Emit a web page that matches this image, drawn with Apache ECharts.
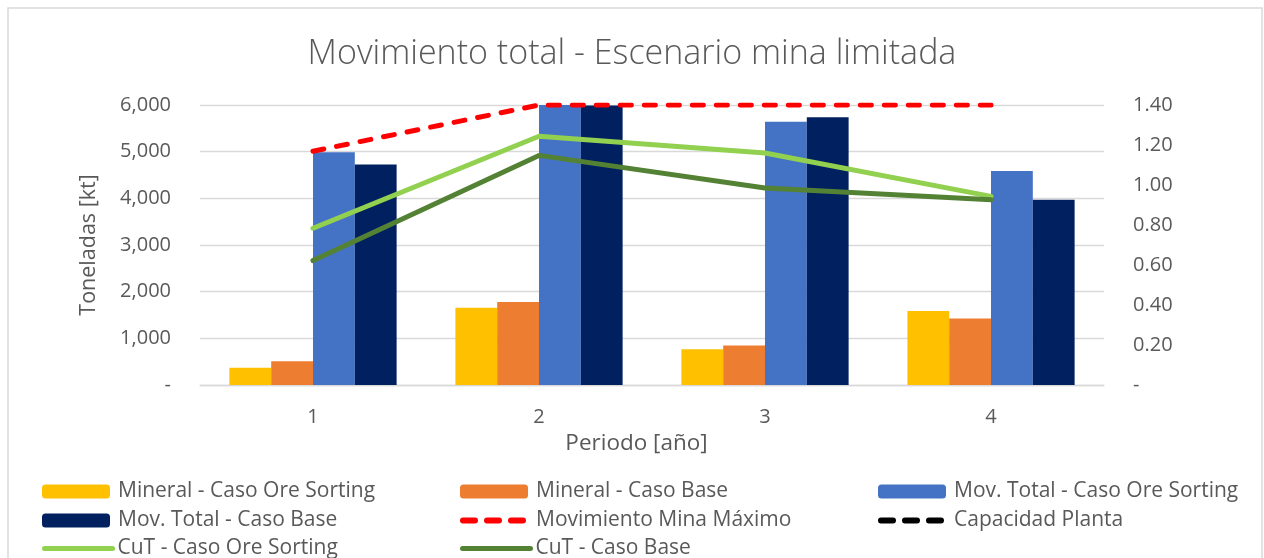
<!DOCTYPE html>
<html>
<head>
<meta charset="utf-8">
<script src="https://cdn.jsdelivr.net/npm/echarts@6/dist/echarts.min.js"></script>
<style>
  html, body { margin: 0; padding: 0; background: #ffffff; }
  #chart { width: 1264px; height: 558px; }
</style>
</head>
<body>
<div id="chart"></div>
<script>
// Periods (x axis categories)
const periodos = ['1', '2', '3', '4'];

// Tonnage series, kt (left axis)
const mineralOreSorting = [370, 1655, 767, 1584];
const mineralBase = [510, 1777, 847, 1427];
const movTotalOreSorting = [4990, 6000, 5640, 4586];
const movTotalBase = [4725, 5990, 5740, 3970];
const movMinaMaximo = [5010, 6000, 6000, 6000];
const capacidadPlanta = [null, null, null, null];

// Copper grade series, % (right axis)
const cutOreSorting = [0.784, 1.244, 1.160, 0.943];
const cutBase = [0.622, 1.148, 0.985, 0.926];

// Axis ranges
const tonMax = 6000, tonStep = 1000;
const leyMax = 1.4, leyStep = 0.2;

const FONT = 'Open Sans';
const GRAY = '#595959';
const GRID = '#d9d9d9';

const chart = echarts.init(document.getElementById('chart'), null, { renderer: 'canvas' });

const seriesNames = [
  'Mineral - Caso Ore Sorting', 'Mineral - Caso Base', 'Mov. Total - Caso Ore Sorting',
  'Mov. Total - Caso Base', 'Movimiento Mina Máximo', 'Capacidad Planta',
  'CuT - Caso Ore Sorting', 'CuT - Caso Base'
];
const lineSeries = [4, 5, 6, 7];
const dashedSeries = [4, 5];

// legend laid out in three columns
const colX = [42, 460, 878];
const rowY = [481, 510, 538];
const legends = seriesNames.map((name, i) => {
  const isLine = lineSeries.indexOf(i) >= 0;
  const lg = {
    data: [name],
    left: colX[i % 3],
    top: rowY[Math.floor(i / 3)],
    padding: 0,
    itemWidth: 68,
    itemHeight: 14,
    itemGap: 0,
    selectedMode: false,
    textStyle: { fontFamily: FONT, fontSize: 21, color: GRAY, padding: [0, 0, 0, isLine ? 0 : 3] }
  };
  if (isLine) {
    // plain stroke in the legend, no marker
    lg.itemStyle = { opacity: 0 };
    lg.lineStyle = dashedSeries.indexOf(i) >= 0
      ? { width: 6, type: [12, 12], cap: 'round' }
      : { width: 5, type: 'solid', cap: 'round' };
  }
  return lg;
});

const barBase = { type: 'bar', barGap: '0%', barCategoryGap: '26%', yAxisIndex: 0 };

chart.setOption({
  animation: false,
  backgroundColor: '#ffffff',
  title: {
    text: 'Movimiento total - Escenario mina limitada',
    left: 'center',
    top: 32,
    textStyle: { fontFamily: FONT, fontSize: 34, fontWeight: 300, color: GRAY }
  },
  graphic: [{
    type: 'rect',
    shape: { x: 8, y: 8, width: 1254, height: 600 },
    style: { fill: 'none', stroke: GRID, lineWidth: 1.5 },
    silent: true
  }],
  legend: legends,
  grid: { left: 200, right: 160, top: 105, height: 280 },
  xAxis: {
    type: 'category',
    data: periodos,
    name: 'Periodo [año]',
    nameLocation: 'middle',
    nameGap: 45,
    nameTextStyle: { fontFamily: FONT, fontSize: 22.5, color: GRAY, padding: [0, 31, 0, 0] },
    axisLine: { lineStyle: { color: GRID, width: 1.3 } },
    axisTick: { show: false },
    axisLabel: { fontFamily: FONT, fontSize: 20, color: GRAY, margin: 22 }
  },
  yAxis: [{
    type: 'value',
    min: 0, max: tonMax, interval: tonStep,
    name: 'Toneladas [kt]',
    nameLocation: 'middle',
    nameGap: 100,
    nameTextStyle: { fontFamily: FONT, fontSize: 21.5, color: GRAY },
    axisLine: { show: false },
    axisTick: { show: false },
    splitLine: { lineStyle: { color: GRID, width: 1.3 } },
    axisLabel: {
      fontFamily: FONT, fontSize: 20, color: GRAY, margin: 29,
      formatter: v => v === 0 ? '-' : v.toLocaleString('en-US')
    }
  }, {
    type: 'value',
    min: 0, max: leyMax, interval: leyStep,
    position: 'right',
    axisLine: { show: false },
    axisTick: { show: false },
    splitLine: { show: false },
    axisLabel: {
      fontFamily: FONT, fontSize: 20, color: GRAY, margin: 29,
      formatter: v => v === 0 ? '-' : v.toFixed(2)
    }
  }],
  series: [
    Object.assign({ name: seriesNames[0], data: mineralOreSorting, itemStyle: { color: '#FFC000' } }, barBase),
    Object.assign({ name: seriesNames[1], data: mineralBase, itemStyle: { color: '#ED7D31' } }, barBase),
    Object.assign({ name: seriesNames[2], data: movTotalOreSorting, itemStyle: { color: '#4472C4' } }, barBase),
    Object.assign({ name: seriesNames[3], data: movTotalBase, itemStyle: { color: '#002060' } }, barBase),
    {
      name: seriesNames[4], type: 'line', yAxisIndex: 0, data: movMinaMaximo,
      symbol: 'none', itemStyle: { color: '#FF0000' },
      lineStyle: { color: '#FF0000', width: 5, type: [11, 13], cap: 'round' }, z: 5
    },
    {
      name: seriesNames[5], type: 'line', yAxisIndex: 0, data: capacidadPlanta,
      symbol: 'none', itemStyle: { color: '#000000' },
      lineStyle: { color: '#000000', width: 5, type: [11, 13], cap: 'round' }, z: 5
    },
    {
      name: seriesNames[6], type: 'line', yAxisIndex: 1, data: cutOreSorting,
      symbol: 'none', itemStyle: { color: '#92D050' },
      lineStyle: { color: '#92D050', width: 5, cap: 'round' }, z: 4
    },
    {
      name: seriesNames[7], type: 'line', yAxisIndex: 1, data: cutBase,
      symbol: 'none', itemStyle: { color: '#548235' },
      lineStyle: { color: '#548235', width: 5, cap: 'round' }, z: 4
    }
  ]
});
</script>
</body>
</html>
